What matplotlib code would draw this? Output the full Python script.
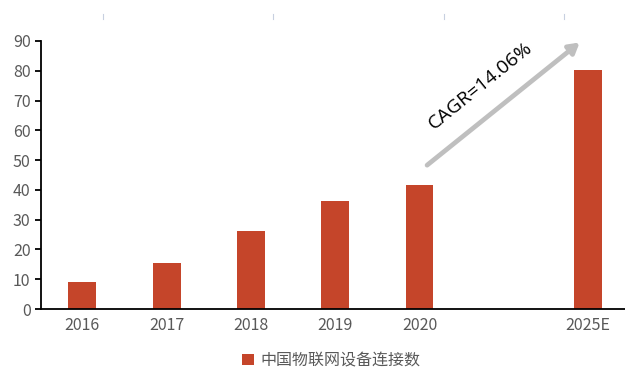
import matplotlib
matplotlib.use("Agg")
from matplotlib import pyplot as plt
from matplotlib.lines import Line2D

# chart data
years = ["2016", "2017", "2018", "2019", "2020", "", "2025E"]
connections = [9.2, 15.5, 26.2, 36.2, 41.6, None, 80.2]
series_name = "中国物联网设备连接数"
cagr_label = "CAGR=14.06%"

bar_color = "#C5452A"
grey = "#595959"

plt.rcParams['font.family'] = ['Noto Sans CJK SC', 'DejaVu Sans']

fig = plt.figure(figsize=(6.25, 3.71), dpi=100)
ax = fig.add_axes([0.0656, 0.167, 0.936, 0.7225])

xs = [i for i, v in enumerate(connections) if v is not None]
vals = [v for v in connections if v is not None]
ax.bar(xs, vals, width=0.33, color=bar_color, label=series_name, zorder=2)

ax.set_xlim(-0.49, 6.45)
ax.set_ylim(0, 90)
ax.set_yticks(range(0, 91, 10))
ax.set_xticks(xs)
ax.set_xticklabels([years[i] for i in xs])
ax.tick_params(axis='x', length=0, colors=grey, labelsize=11.5, pad=6)
ax.tick_params(axis='y', length=4, width=1.3, colors='black', labelcolor=grey,
               labelsize=11.5, direction='out')
for side in ['top', 'right']:
    ax.spines[side].set_visible(False)
for side in ['left', 'bottom']:
    ax.spines[side].set_linewidth(1.3)
    ax.spines[side].set_color('black')

# growth arrow with CAGR label
ax.annotate("", xy=(5.9, 89.5), xytext=(4.09, 48.3),
            arrowprops=dict(arrowstyle="-|>,head_length=0.6,head_width=0.35",
                            color="#BFBFBF", lw=3.4, shrinkA=0, shrinkB=0),
            annotation_clip=False)
ax.text(4.72, 75.0, cagr_label, rotation=39, ha='center', va='center',
        fontsize=14, color='black', family=['Open Sans', 'DejaVu Sans'])

# faint marks above the plot
for xf in [103, 273, 444, 564]:
    fig.add_artist(Line2D([xf / 625, xf / 625], [1 - 14 / 371, 1 - 19 / 371],
                          color="#C8D0E0", lw=0.8))

fig.legend(loc='center', bbox_to_anchor=(0.53, 0.028), frameon=False,
           fontsize=11.5, labelcolor=grey, handlelength=0.7, handleheight=0.7,
           handletextpad=0.4)

fig.savefig("out.png", dpi=100)
